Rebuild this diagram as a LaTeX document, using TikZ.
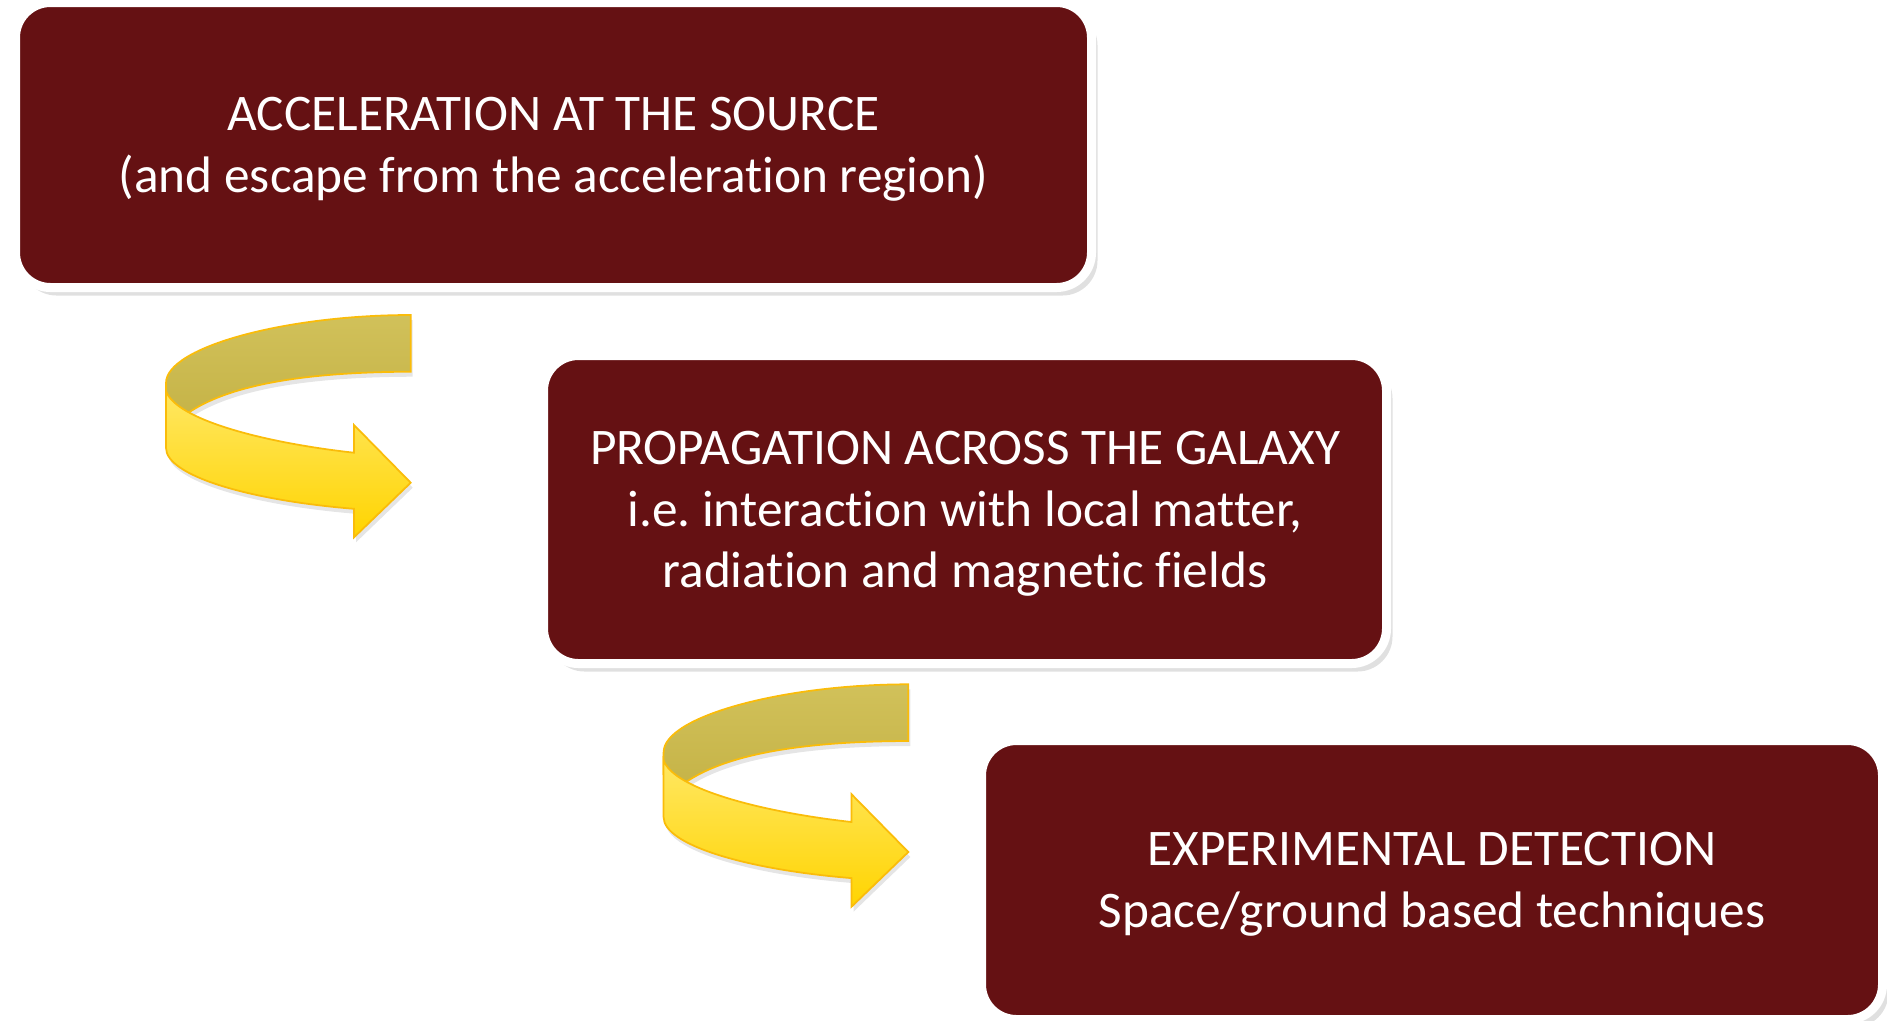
\documentclass[tikz,border=0pt]{standalone}
\usepackage{fontspec}
\setmainfont{Carlito}[Ligatures=NoCommon]
\usetikzlibrary{shadows}

\definecolor{boxred}{RGB}{101,17,19}
\definecolor{ribbonedge}{RGB}{250,188,10}
\definecolor{ribbonbacktop}{RGB}{209,193,90}
\definecolor{ribbonbackbot}{RGB}{198,180,72}
\definecolor{ribbontop}{RGB}{255,231,98}
\definecolor{ribbonbot}{RGB}{255,212,0}

\tikzset{
  stage/.style={rectangle, rounded corners=3.5mm, fill=boxred, draw=white,
    line width=0.9mm, text=white, align=center, inner sep=0pt,
    font=\fontsize{14.6}{17.5}\selectfont, text depth=-1.4pt,
    drop shadow={shadow xshift=0.6mm, shadow yshift=-0.8mm, opacity=0.12, fill=black}},
  ribbonshadow/.style={drop shadow={shadow xshift=0.2mm, shadow yshift=-0.5mm, opacity=0.1, fill=black}},
  % curled ribbon arrow, origin at the left end of its top edge
  turnarrow/.pic={
    % far side of the ribbon
    \path[draw=ribbonedge, line width=0.5pt, ribbonshadow, top color=ribbonbacktop, bottom color=ribbonbackbot]
      (244.7,0) .. controls (120,0) and (0,32) .. (0,68) -- (0,90) -- (22,98)
      .. controls (60,72) and (130,57) .. (244.7,56.7) -- cycle;
    % near side with the head
    \path[draw=ribbonedge, line width=0.5pt, ribbonshadow, top color=ribbontop, bottom color=ribbonbot]
      (0,76) -- (0,133) .. controls (0,160) and (80,185) .. (188,193.8)
      -- (188,222.3) -- (244.7,167.7) -- (188,110) -- (188,137.7)
      .. controls (100,128) and (10,105) .. cycle;
  }
}

\begin{document}
\begin{tikzpicture}[x=0.1mm, y=-0.1mm]
  \useasboundingbox (0,0) rectangle (1887,1020);

  % the three stages
  \node[stage, minimum width=107.6mm, minimum height=28.5mm] (accel) at (553.5,145)
    {ACCELERATION AT THE SOURCE\\(and escape from the acceleration region)};
  \node[stage, minimum width=84.3mm, minimum height=30.8mm] (prop) at (965,509.5)
    {PROPAGATION ACROSS THE GALAXY\\i.e.\ interaction with local matter,\\radiation and magnetic fields};
  \node[stage, minimum width=90.1mm, minimum height=27.9mm] (detect) at (1432,880)
    {EXPERIMENTAL DETECTION\\Space/ground based techniques};

  % arrows between stages
  \path (accel.south west) ++(155,23) pic {turnarrow};
  \path (prop.south west) ++(124.6,16.3) pic {turnarrow};
\end{tikzpicture}
\end{document}
